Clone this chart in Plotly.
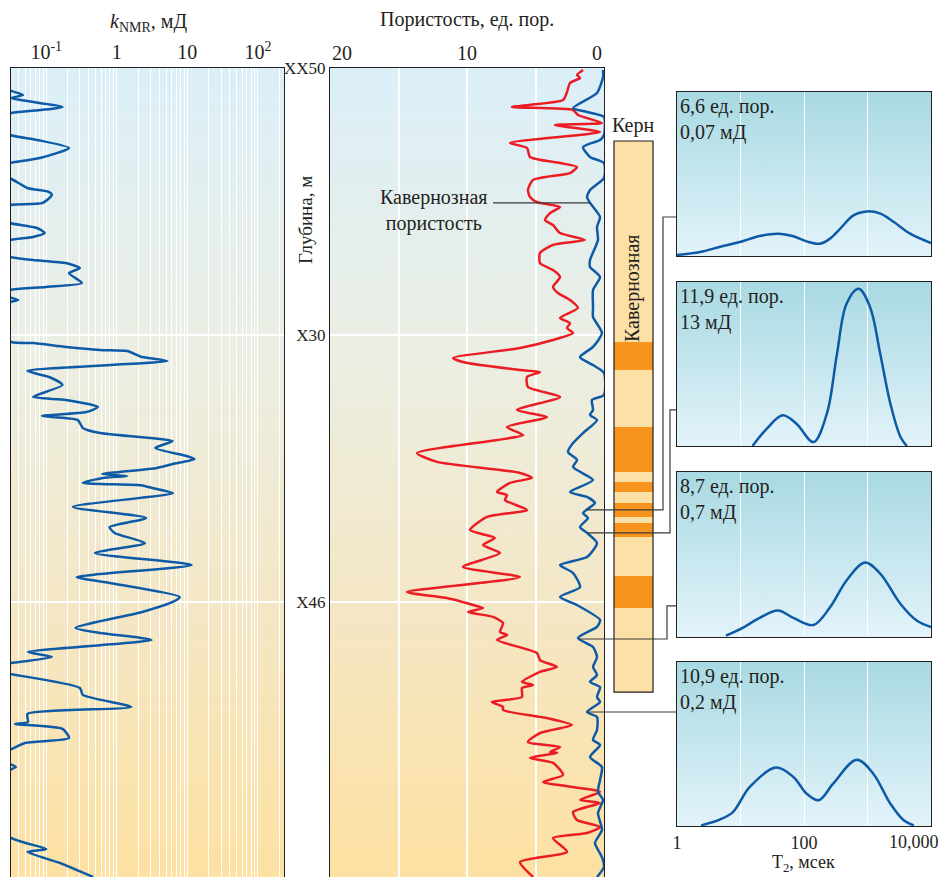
import base64
import numpy as np
import plotly.graph_objects as go

W, H = 941, 877
FONT = "Liberation Serif"
INK = "#231f20"
BLUE = "#0d5aa7"
RED = "#ec1c24"

# ---- data ---------------------------------------------------------------
depth_ticks = [0, 15, 30, 45]
depth_labels = ["XX50", "X30", "X46", "X61"]

knmr_ticks = [0.1, 1, 10, 100]
knmr_ticktext = ["10<sup>-1</sup>", "1", "10", "10<sup>2</sup>"]

knmr_depth = [0.0, 1.24, 1.52, 1.69, 2.19, 2.53, 2.92, 3.76, 4.04, 4.49, 5.06, 5.34, 5.73,
              6.18, 6.74, 6.97, 7.13, 7.58, 7.70, 8.20, 8.71, 8.99, 9.27, 9.49, 9.66, 10.11,
              10.62, 10.79, 10.96, 11.24, 11.52, 12.08, 12.30, 12.47, 12.7, 13.03, 13.3, 14.16,
              15.39, 15.45, 15.67, 15.84, 15.90, 16.24, 16.46, 17.02, 17.36, 17.81, 18.48,
              18.65, 19.04, 19.33, 19.55, 19.78, 20.22, 20.51, 20.84, 20.96, 21.35, 21.80,
              21.97, 22.25, 22.47, 22.81, 22.92, 23.03, 23.31, 23.45, 23.60, 23.88, 24.66,
              25.28, 25.79, 26.12, 26.69, 27.25, 27.92, 28.60, 28.93, 29.72, 30.00, 30.56,
              31.46, 31.74, 32.13, 32.81, 33.09, 33.43, 33.71, 34.04, 34.83, 35.22, 35.90,
              36.29, 36.74, 36.85, 37.13, 37.64, 37.92, 38.31, 38.76, 39.1, 39.27, 39.44,
              40.56, 43.2, 43.88, 44.04, 44.66, 45.45]
knmr_md = [0.01, 0.03, 0.047, 0.032, 0.17, 0.032, 0.01, 0.03, 0.074, 0.21, 0.081, 0.03, 0.01,
           0.03, 0.054, 0.11, 0.12, 0.089, 0.03, 0.01, 0.03, 0.074, 0.095, 0.065, 0.03, 0.01,
           0.03, 0.065, 0.19, 0.30, 0.21, 0.32, 0.10, 0.03, 0.02, 0.04, 0.02, 0.01,
           0.032, 0.065, 0.19, 0.58, 1.4, 2.3, 5.2, 0.054, 0.11, 0.17, 0.065,
           0.19, 0.54, 0.37, 0.087, 0.28, 0.33, 0.58, 4.1, 6.2, 3.5, 9.8,
           12.6, 6.2, 3.7, 0.62, 1.4, 0.63, 0.33, 2.3, 3.2, 6.2, 0.24,
           2.6, 0.79, 0.93, 2.5, 0.49, 11.5, 0.27, 0.79, 7.8, 6.2, 2.3,
           0.26, 0.58, 3.1, 0.055, 0.12, 0.032, 0.01, 0.03, 0.30, 0.33, 1.6,
           0.054, 0.055, 0.036, 0.17, 0.21, 0.05, 0.03, 0.01, 0.03, 0.037, 0.03,
           0.01, 0.03, 0.10, 0.054, 0.155, 0.46]

por_ticks = [20, 10, 0]
por_depth = [0.11, 0.39, 0.56, 0.84, 1.35, 1.80, 2.19, 2.36, 2.64, 3.09, 3.20, 3.60, 4.21,
             4.49, 5.0, 5.34, 5.56, 5.9, 6.29, 6.85, 7.25, 7.53, 7.81, 8.15, 8.54, 8.82,
             9.27, 9.66, 9.94, 10.39, 10.96, 11.35, 11.74, 12.3, 12.64, 13.03, 13.48, 14.04,
             14.33, 14.61, 14.89, 15.28, 15.73, 16.29, 16.52, 16.97, 17.08, 17.36, 17.92,
             18.48, 19.21, 19.61, 20.17, 20.62, 20.9, 21.63, 22.13, 22.75, 23.03, 23.31,
             23.82, 23.99, 24.27, 24.83, 25.22, 25.96, 26.4, 26.8, 27.25, 28.03, 28.6,
             29.44, 29.78, 30.17, 30.34, 30.56, 30.84, 31.18, 31.69, 31.85, 32.13, 32.87,
             33.26, 33.65, 33.93, 34.49, 34.66, 34.83, 35.34, 35.62, 35.9, 36.07, 36.52,
             36.91, 37.36, 37.87, 38.15, 38.43, 38.48, 38.76, 39.04, 39.72, 40.11, 40.67,
             41.12, 41.29, 41.8, 42.25, 42.64, 42.98, 43.26, 44.04, 44.61, 45.45]
por_total = [1.53, 1.97, 1.75, 2.48, 2.7, 2.99, 6.72, 2.26, 1.90, 0.15, 3.58, 0.29, 6.86,
             5.62, 5.4, 3.21, 1.97, 2.48, 5.18, 5.55, 5.4, 4.89, 3.21, 3.94, 4.31, 3.72,
             3.21, 1.39, 3.72, 4.67, 4.67, 3.72, 3.21, 3.72, 3.36, 2.48, 1.9, 3.21,
             2.48, 2.7, 2.26, 3.72, 6.13, 11.02, 10.29, 6.13, 4.67, 5.62, 5.55,
             3.21, 6.35, 4.16, 7.08, 5.91, 7.81, 13.65, 12.19, 6.13, 5.26, 6.86,
             7.81, 7.08, 7.23, 5.62, 8.54, 9.78, 7.96, 8.83, 7.59, 10.29, 6.13,
             14.38, 11.46, 9.56, 8.83, 9.93, 8.1, 7.37, 7.59, 7.08, 7.81, 4.89,
             4.67, 3.43, 4.67, 5.99, 5.18, 5.99, 5.99, 8.18, 7.37, 7.37, 4.16,
             2.34, 4.67, 5.55, 3.21, 3.94, 3.43, 5.40, 3.72, 2.99, 4.45, 0.29,
             1.75, 0.29, 2.26, 1.97, 0.29, 1.24, 3.72, 2.7, 6.13, 5.18]

vug_depth = [0.11, 0.51, 1.40, 2.25, 2.47, 2.75, 3.76, 4.04, 4.44, 5.0, 5.34, 6.18, 6.85,
             7.25, 7.58, 8.37, 8.93, 9.66, 10.79, 11.18, 11.74, 12.47, 13.43, 13.99, 14.89,
             15.67, 16.24, 16.69, 17.13, 18.37, 18.65, 19.21, 19.49, 19.78, 20.51, 21.07,
             21.57, 22.02, 22.42, 23.15, 23.82, 24.1, 24.44, 25.0, 25.28, 25.79, 26.12,
             26.69, 27.47, 27.92, 28.37, 29.16, 29.72, 30.17, 31.01, 31.4, 32.02, 32.53,
             33.09, 33.65, 34.1, 34.49, 34.78, 35.34, 35.62, 36.18, 36.46, 37.19, 37.75,
             38.03, 38.71, 39.27, 40.0, 40.67, 41.12, 41.85, 42.81, 43.54, 44.33, 44.89, 45.45]
vug_por = [0.07, 0.07, 0.51, 2.26, 1.24, 0.0, 0.0, 0.29, 1.53, 1.02, 0.0, 0.0, 1.02,
           1.24, 1.02, 0.29, 0.51, 0.44, 1.02, 1.02, 0.29, 0.8, 0.8, 0.8, 0.15,
           0.8, 1.75, 0.8, 0.0, 0.0, 0.88, 0.8, 1.02, 0.51, 1.53, 2.26,
           2.63, 1.97, 2.26, 0.8, 2.48, 1.24, 0.66, 1.53, 1.17, 1.75, 1.24,
           0.51, 1.24, 3.21, 2.26, 1.75, 3.21, 1.97, 0.29, 0.51, 1.9, 0.8,
           0.51, 0.8, 0.51, 1.02, 0.29, 0.51, 0.29, 1.24, 0.51, 0.51, 0.8,
           0.29, 1.02, 0.15, 0.29, 0.44, 0.07, 0.44, 0.15, 0.66, 0.15, 0.0, 0.51]

core_top, core_base = 4.1, 35.06
vug_band_top = [15.39, 20.17, 23.26, 24.44, 25.56, 28.54]
vug_band_base = [16.97, 22.70, 23.82, 25.22, 26.35, 30.34]

t2_ms = [
    [1, 2.3, 4.7, 9.8, 20, 39, 68, 110, 178, 257, 372, 600, 980, 1600, 2600, 4700, 10000],
    [15.5, 26, 46, 76, 141, 229, 331, 468, 724, 1096, 1585, 2291, 3311, 4169],
    [5.9, 11, 20, 39, 68, 141, 257, 468, 912, 1585, 3311, 6026, 10000],
    [2.4, 4.7, 7.6, 14, 36, 68, 110, 170, 288, 676, 1230, 2291, 3715, 5370],
]
t2_amp = [
    [0.006, 0.024, 0.055, 0.085, 0.122, 0.136, 0.12, 0.089, 0.075, 0.106, 0.167, 0.248,
     0.272, 0.258, 0.207, 0.136, 0.079],
    [0.0, 0.106, 0.187, 0.136, 0.024, 0.197, 0.563, 0.868, 0.959, 0.848, 0.563, 0.258,
     0.055, 0.0],
    [0.008, 0.057, 0.116, 0.161, 0.116, 0.073, 0.18, 0.343, 0.451, 0.384, 0.2, 0.098, 0.061],
    [0.004, 0.039, 0.085, 0.238, 0.356, 0.299, 0.197, 0.157, 0.258, 0.404, 0.319, 0.136,
     0.035, 0.004],
]
t2_ticks = [1, 100]
t2_ticktext = ["1", "100"]
t2_texts = ["6,6 ед. пор.<br>0,07 мД", "11,9 ед. пор.<br>13 мД",
            "8,7 ед. пор.<br>0,7 мД", "10,9 ед. пор.<br>0,2 мД"]
sample_depth = [24.83, 26.12, 32.08, 36.18]
link_depth = [8.37, 19.21, 30.22, 36.18]


# ---- geometry helpers (pixel -> paper) ------------------------------------
def px(x):
    return x / W


def py(y):
    return 1 - y / H


K_DOM = [px(11), px(284)]
POR_DOM = [px(330), px(604)]
LOG_Y = [0, py(68)]
T2_X = [px(677), px(931)]
T2_Y = [[py(256), py(92)], [py(446), py(282)], [py(637), py(472)], [py(826), py(662)]]
LINK_X = [663, 670, 667, 640]


def por_paper(p):
    return POR_DOM[0] + (20 - p) / 20 * (POR_DOM[1] - POR_DOM[0])


def gradient(stops):
    s = "".join(f'<stop offset="{o}" stop-color="{c}"/>' for o, c in stops)
    svg = ('<svg xmlns="http://www.w3.org/2000/svg" width="10" height="100" '
           'viewBox="0 0 10 100" preserveAspectRatio="none"><defs>'
           f'<linearGradient id="g" x1="0" y1="0" x2="0" y2="1">{s}</linearGradient>'
           '</defs><rect width="10" height="100" fill="url(#g)"/></svg>')
    return "data:image/svg+xml;base64," + base64.b64encode(svg.encode()).decode()


log_bg = gradient([(0, "#dbeff9"), (0.35, "#ebeee3"), (0.7, "#f5e6c2"), (1, "#fde1a2")])
t2_bg = gradient([(0, "#a8d9e2"), (1, "#e3f3fa")])

fig = go.Figure()

fig.add_trace(go.Scatter(x=knmr_md, y=knmr_depth, xaxis="x", yaxis="y", mode="lines",
                         line=dict(color=BLUE, width=2.5, shape="spline", smoothing=0.6)))
fig.add_trace(go.Scatter(x=por_total, y=por_depth, xaxis="x2", yaxis="y2", mode="lines",
                         line=dict(color=RED, width=2.5, shape="spline", smoothing=0.6)))
fig.add_trace(go.Scatter(x=vug_por, y=vug_depth, xaxis="x2", yaxis="y2", mode="lines",
                         line=dict(color=BLUE, width=2.5, shape="spline", smoothing=0.6)))
for i in range(4):
    fig.add_trace(go.Scatter(x=t2_ms[i], y=t2_amp[i], xaxis=f"x{i + 3}", yaxis=f"y{i + 3}",
                             mode="lines",
                             line=dict(color=BLUE, width=2.5, shape="spline", smoothing=1.0)))

frame = dict(showline=True, mirror=True, linecolor=INK, linewidth=1.2, zeroline=False,
             ticks="", automargin=False)
lay = dict(
    width=W, height=H, margin=dict(l=0, r=0, t=0, b=0, autoexpand=False), showlegend=False,
    paper_bgcolor="white", plot_bgcolor="rgba(0,0,0,0)",
    font=dict(family=FONT, size=20, color=INK),
    xaxis=dict(frame, type="log", range=[-1.5, 2.37], domain=K_DOM, anchor="y", side="top",
               tickvals=knmr_ticks, ticktext=knmr_ticktext, showgrid=True,
               gridcolor="white", gridwidth=1, tickfont=dict(size=20),
               minor=dict(tickvals=[m * 10 ** e for e in (-2, -1, 0, 1, 2) for m in range(2, 10)],
                          showgrid=True, gridcolor="white", gridwidth=1, ticks="")),
    yaxis=dict(frame, range=[45.45, 0], domain=LOG_Y, anchor="x", tickvals=depth_ticks,
               showticklabels=False, showgrid=False,
               minor=dict(tickvals=depth_ticks[1:3], showgrid=True, gridcolor="white",
                          gridwidth=1.5, ticks="")),
    xaxis2=dict(frame, range=[20, 0], domain=POR_DOM, anchor="y2", side="top",
                tickvals=[15, 10, 5], showticklabels=False, showgrid=True,
                gridcolor="white", gridwidth=1.5),
    yaxis2=dict(frame, range=[45.45, 0], domain=LOG_Y, anchor="x2", matches="y",
                tickvals=depth_ticks, ticktext=depth_labels, showgrid=False,
                tickfont=dict(size=17),
                minor=dict(tickvals=depth_ticks[1:3], showgrid=True, gridcolor="white",
                           gridwidth=1.5, ticks="")),
)
for i in range(4):
    n = i + 3
    lay[f"xaxis{n}"] = dict(frame, type="log", range=[0, 4], domain=T2_X, anchor=f"y{n}",
                            tickvals=t2_ticks, ticktext=t2_ticktext, showticklabels=(i == 3),
                            tickfont=dict(size=18), showgrid=True, gridcolor="white",
                            gridwidth=1.2,
                            minor=dict(tickvals=[10, 1000], showgrid=True, gridcolor="white",
                                       gridwidth=1.2, ticks=""))
    lay[f"yaxis{n}"] = dict(frame, range=[0, 1.0], domain=T2_Y[i], anchor=f"x{n}",
                            showticklabels=False, showgrid=False)
fig.update_layout(**lay)

images = [dict(source=log_bg, xref="x domain", yref="y domain"),
          dict(source=log_bg, xref="x2 domain", yref="y2 domain")]
images += [dict(source=t2_bg, xref=f"x{n} domain", yref=f"y{n} domain") for n in range(3, 7)]
for im in images:
    im.update(x=0, y=1, sizex=1, sizey=1, xanchor="left", yanchor="top",
              sizing="stretch", layer="below")
fig.update_layout(images=images)

# core column
cx0, cx1 = px(614), px(653)
fig.add_shape(type="rect", xref="paper", yref="y", x0=cx0, x1=cx1, y0=core_top, y1=core_base,
              fillcolor="#fde0a6", line=dict(width=0))
for t, b in zip(vug_band_top, vug_band_base):
    fig.add_shape(type="rect", xref="paper", yref="y", x0=cx0, x1=cx1, y0=t, y1=b,
                  fillcolor="#f7941d", line=dict(width=0))
fig.add_shape(type="rect", xref="paper", yref="y", x0=cx0, x1=cx1, y0=core_top, y1=core_base,
              line=dict(color=INK, width=1.2))

# connectors from sampled depths to T2 panels
for i, (sd, ld) in enumerate(zip(sample_depth, link_depth)):
    x0 = por_paper(float(np.interp(sd, vug_depth, vug_por)))
    xv = px(LINK_X[i])
    path = f"M {x0},{sd} L {xv},{sd} L {xv},{ld} L {T2_X[0]},{ld}"
    fig.add_shape(type="path", xref="paper", yref="y", path=path,
                  line=dict(color="#3a3a3a", width=1.2))

# leader for vuggy porosity label
lead_d = 7.58
fig.add_shape(type="line", xref="x2", yref="y2", x0=8.1,
              x1=float(np.interp(lead_d, vug_depth, vug_por)),
              y0=lead_d, y1=lead_d, line=dict(color="#3a3a3a", width=1.2))

ann = [
    dict(text="<i>k</i><sub>NMR</sub>, мД", x=px(148), y=py(22), xref="paper", yref="paper"),
    dict(text="Пористость, ед. пор.", x=px(467), y=py(20), xref="paper", yref="paper"),
    dict(text="Глубина, м", x=px(305), y=py(220), xref="paper", yref="paper", textangle=-90,
         font=dict(size=19)),
    dict(text="Керн", x=px(633), y=py(126), xref="paper", yref="paper"),
    dict(text="Кавернозная", x=px(632), y=12.36, xref="paper", yref="y", textangle=-90),
    dict(text="Кавернозная<br>пористость", x=8.3, y=7.98, xref="x2", yref="y",
         xanchor="right", align="center"),
    dict(text="T<sub>2</sub>, мсек", x=px(803), y=py(863), xref="paper", yref="paper",
         font=dict(size=18)),
    dict(text="10,000", x=4, y=py(842), xref="x6", yref="paper", xanchor="right", xshift=10,
         font=dict(size=18)),
]
for p, anchor in zip(por_ticks, ["left", "center", "right"]):
    ann.append(dict(text=str(p), x=p, y=py(53), xref="x2", yref="paper", xanchor=anchor))
for i in range(4):
    ann.append(dict(text=t2_texts[i], x=0, y=1, xref=f"x{i + 3} domain", yref=f"y{i + 3} domain",
                    xanchor="left", yanchor="top", align="left", xshift=1, yshift=-1))
for a in ann:
    a.setdefault("showarrow", False)
    a.setdefault("xanchor", "center")
    a.setdefault("yanchor", "middle")
fig.update_layout(annotations=ann)

# the page's default body margin would shift the fixed-size figure
fig.write_html("out.html", config={"displayModeBar": False},
               post_script="document.body.style.margin='0';document.body.style.overflow='hidden';")
